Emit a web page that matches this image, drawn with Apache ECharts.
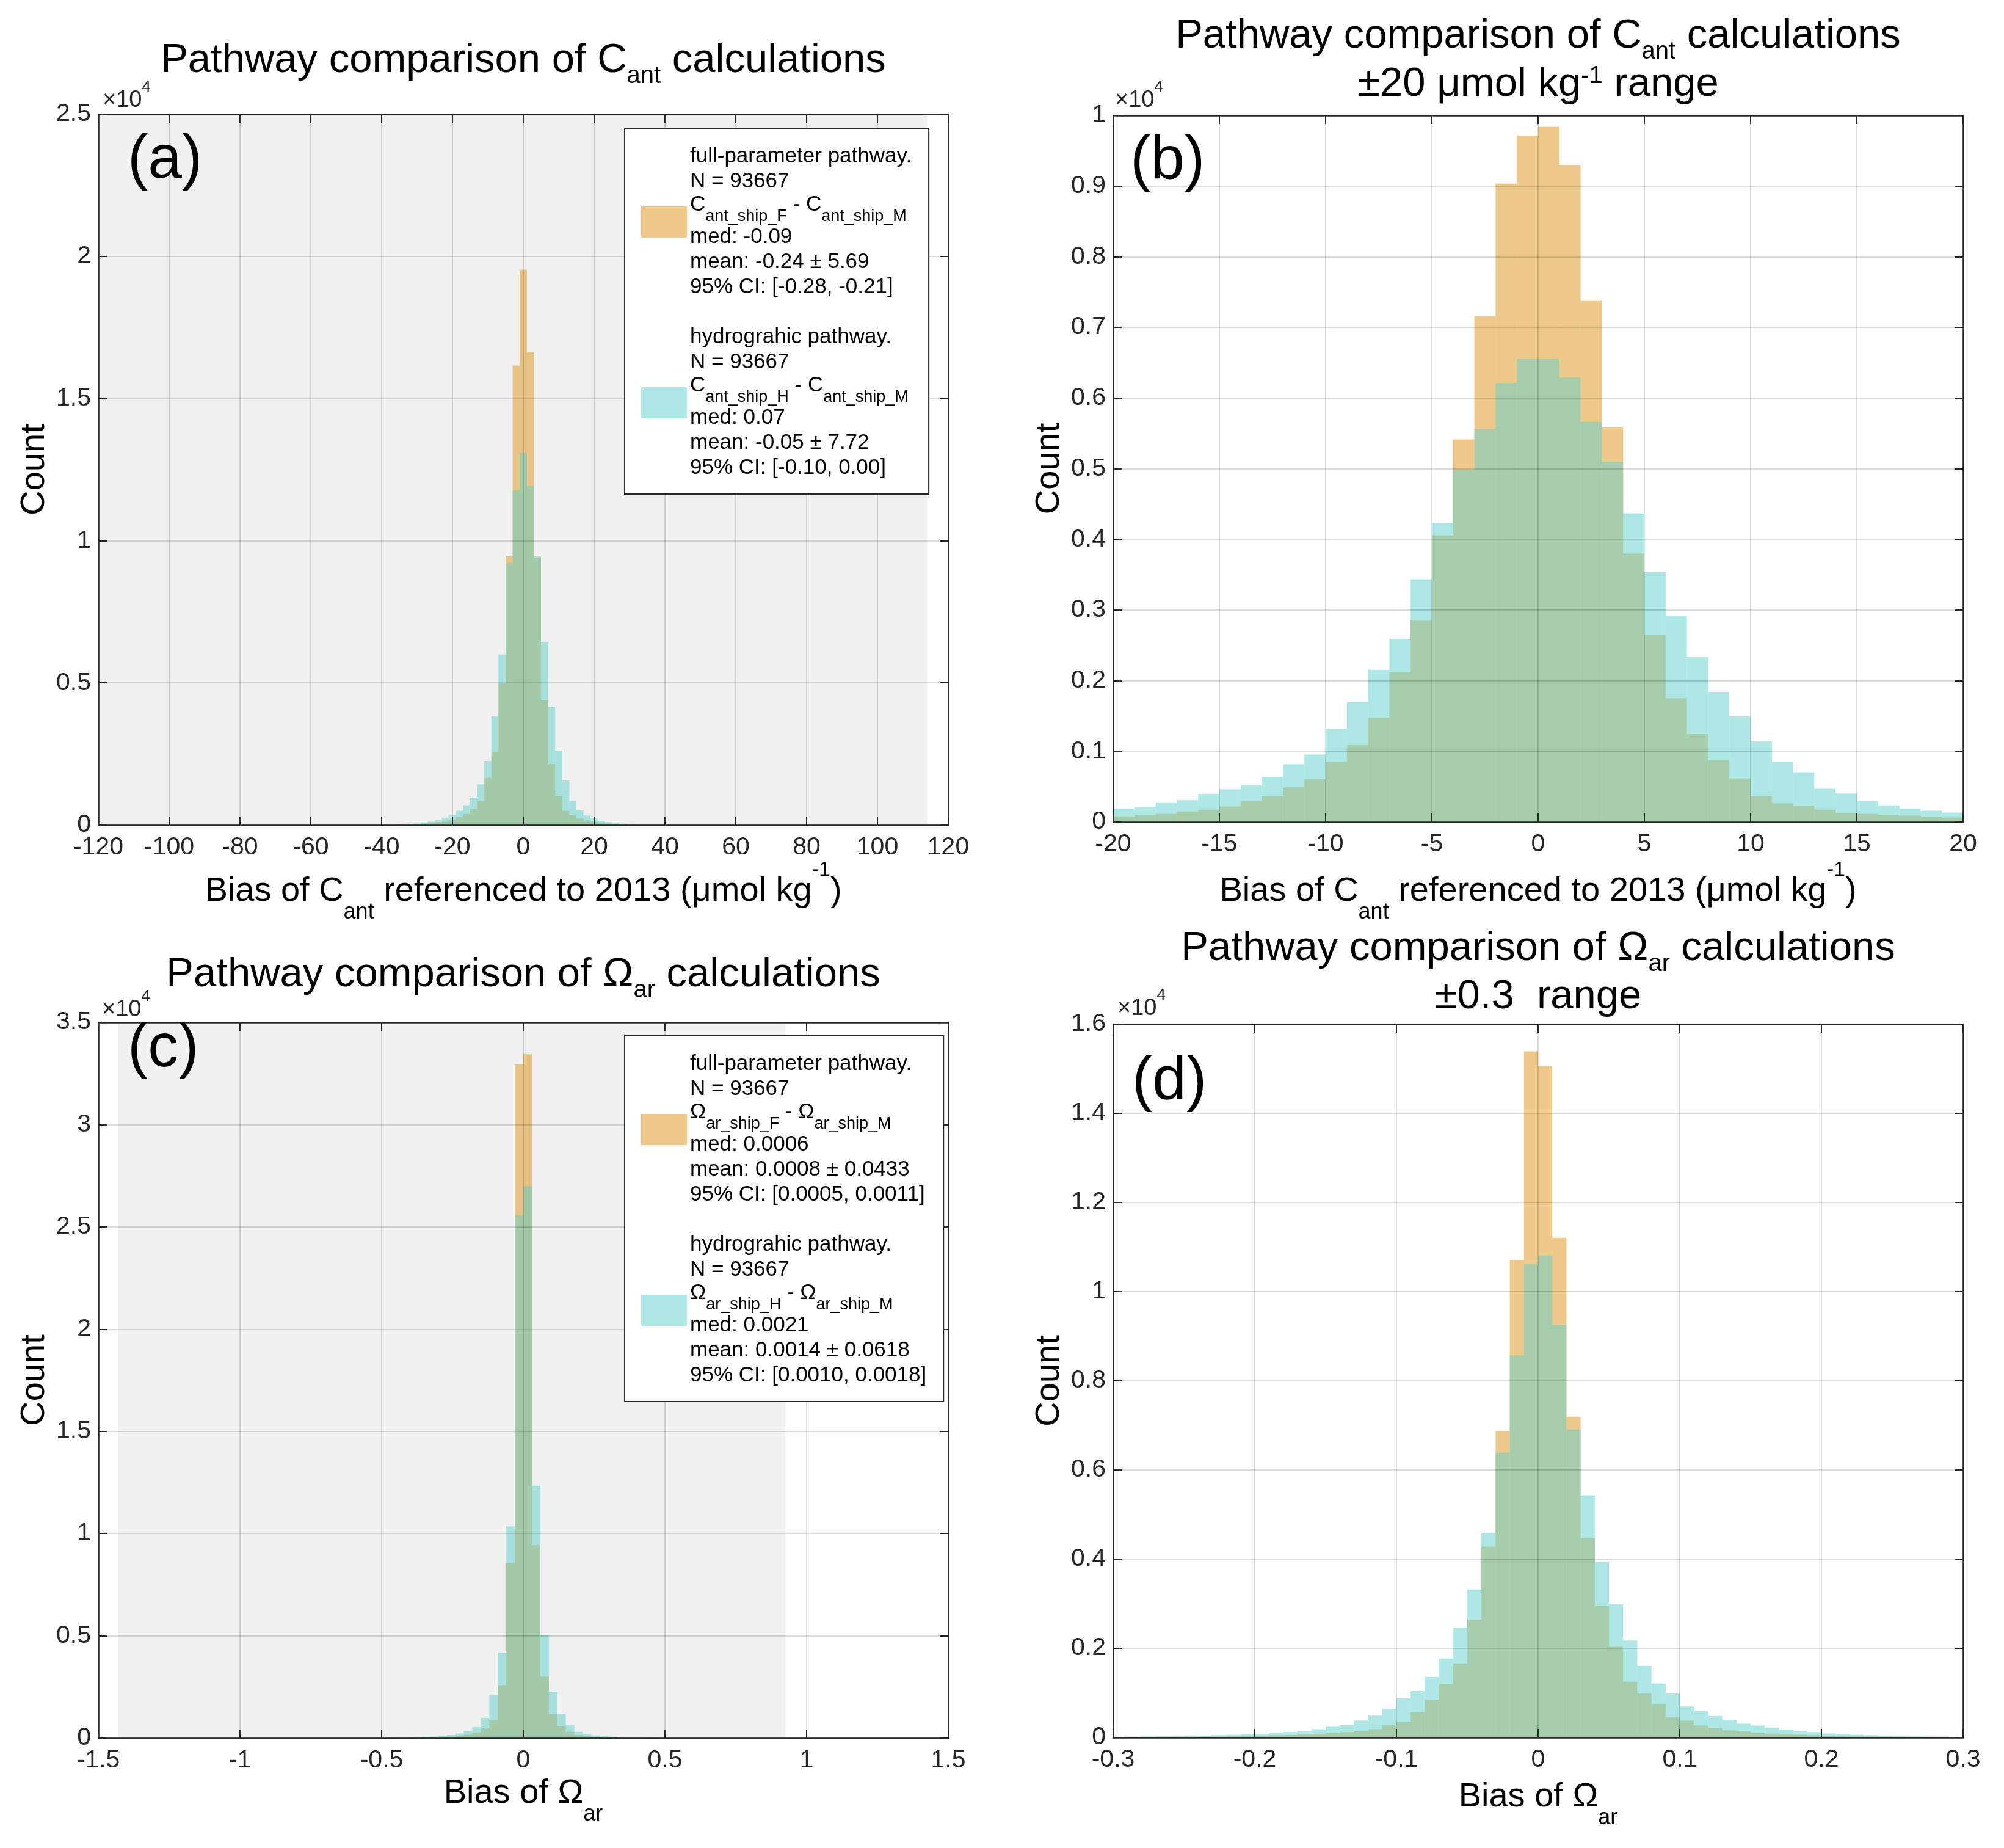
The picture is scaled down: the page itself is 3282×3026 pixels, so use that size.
<!DOCTYPE html>
<html>
<head>
<meta charset="utf-8">
<title>Pathway comparison of Cant and Omega_ar calculations</title>
<script src="https://cdn.jsdelivr.net/npm/echarts@6/dist/echarts.min.js"></script>
<style>
  html, body { margin: 0; padding: 0; background: #fff; }
  #chart { width: 3282px; height: 3026px; }
</style>
</head>
<body>
<div id="chart"></div>
<script>
// ---- data (counts per bin) ----
// (a) Cant, full range, 2-unit bins starting at -41
var startA = -41, widthA = 2;
var cantFullA = [4, 6, 9, 13, 18, 25, 40, 60, 90, 130, 200, 295, 390, 565, 845, 1660, 2580, 4990, 9450, 16160,
  19530, 16630, 9400, 4390, 2150, 1030, 500, 340, 230, 160, 110, 70, 45, 30, 20, 12, 8, 5, 3, 2, 1];
var cantHydroA = [10, 15, 20, 28, 38, 50, 80, 120, 180, 250, 360, 500, 700, 965, 1435, 2255, 3830, 6000, 9210, 11770,
  13090, 11930, 9450, 6440, 4160, 2620, 1570, 860, 520, 335, 230, 150, 100, 60, 40, 25, 16, 10, 7, 5, 3];

// (b) Cant, +-20 range, 1-unit bins starting at -20
var startB = -20, widthB = 1;
var cantFullB = [80, 95, 115, 150, 175, 220, 295, 370, 490, 605, 850, 1090, 1480, 2120, 2850, 4055, 5415, 7160, 9035, 9715,
  9840, 9300, 7375, 5590, 3800, 2645, 1750, 1245, 875, 615, 370, 265, 230, 175, 130, 115, 100, 90, 75, 65];
var cantHydroB = [190, 215, 270, 310, 400, 465, 520, 640, 820, 955, 1320, 1700, 2155, 2590, 3435, 4230, 4985, 5560, 6215, 6550,
  6550, 6290, 5665, 5100, 4370, 3535, 2915, 2335, 1840, 1495, 1140, 850, 705, 470, 405, 295, 235, 190, 160, 135];

// (c) Omega_ar, full range, 0.03 bins starting at -0.48
var startC = -0.48, widthC = 0.03;
var omegaFullC = [5, 7, 10, 14, 20, 30, 45, 65, 100, 165, 280, 470, 870, 2580, 8550, 32950,
  33440, 9440, 3000, 1170, 585, 305, 140, 90, 55, 35, 22, 15, 10, 7, 5, 3];
var omegaHydroC = [12, 18, 25, 35, 50, 70, 100, 150, 220, 350, 540, 985, 2110, 4170, 10350, 25570,
  26980, 12340, 5035, 2270, 1170, 630, 305, 200, 130, 85, 55, 35, 22, 15, 10, 7];

// (d) Omega_ar, +-0.3 range, 0.01 bins starting at -0.3
var startD = -0.3, widthD = 0.01;
var omegaFullD = [7, 8, 9, 10, 12, 15, 18, 22, 28, 32, 37, 49, 55, 67, 80, 105, 120, 150, 185, 270,
  353, 567, 846, 1200, 1660, 2645, 4280, 6870, 10710, 15390,
  15060, 11210, 7195, 4475, 2945, 2035, 1250, 985, 750, 450, 375, 268, 214, 160, 140, 107, 90, 75, 60, 50,
  40, 32, 26, 20, 16, 13, 11, 9, 8, 7];
var omegaHydroD = [16, 18, 22, 26, 30, 36, 42, 50, 60, 70, 80, 104, 122, 150, 185, 240, 275, 380, 490, 640,
  878, 1040, 1360, 1770, 2460, 3320, 4590, 6390, 8570, 10620,
  10810, 9260, 6906, 5430, 3940, 2990, 2175, 1606, 1210, 985, 696, 590, 482, 396, 310, 268, 220, 180, 150, 120,
  90, 75, 60, 48, 38, 30, 25, 20, 17, 14];

// axis ranges [min, max, interval]
var xRangeA = [-120, 120, 20], yRangeA = [0, 25000, 5000];
var xRangeB = [-20, 20, 5],    yRangeB = [0, 10000, 1000];
var xRangeC = [-1.5, 1.5, 0.5], yRangeC = [0, 35000, 5000];
var xRangeD = [-0.3, 0.3, 0.1], yRangeD = [0, 16000, 2000];

// grey background patch (x extent) in the full-range panels
var shadeA = [-120, 114];
var shadeC = [-1.43, 0.925];

// ---- styling ----
var font = 'Liberation Sans, Arial, Helvetica, sans-serif';
var ink = '#262626';
var orange = 'rgba(223,147,21,0.5)';
var cyan = 'rgba(91,209,205,0.5)';

var grids = [
  { left: 161, top: 187, width: 1392, height: 1164 },
  { left: 1823, top: 189, width: 1392, height: 1157 },
  { left: 161, top: 1674, width: 1392, height: 1172 },
  { left: 1823, top: 1677, width: 1392, height: 1168 }
];
grids.forEach(function (g) { g.outerBoundsMode = 'none'; });

function toBins(start, width, counts) {
  return counts.map(function (c, i) {
    return [+(start + i * width).toFixed(6), +(start + (i + 1) * width).toFixed(6), c];
  });
}

function renderBin(params, api) {
  var tl = api.coord([api.value(0), api.value(2)]);
  var br = api.coord([api.value(1), 0]);
  return {
    type: 'rect',
    shape: { x: tl[0], y: tl[1], width: br[0] - tl[0], height: br[1] - tl[1] },
    style: { fill: api.visual('color') }
  };
}

var axisNameRich = {
  n: { fontSize: 56, lineHeight: 104, fontFamily: font, color: '#000' },
  s: { fontSize: 36, lineHeight: 36, verticalAlign: 'bottom', fontFamily: font, color: '#000' },
  p: { fontSize: 34, lineHeight: 45, verticalAlign: 'top', fontFamily: font, color: '#000' }
};

function xAxes(gi, range, name, gap) {
  var common = {
    type: 'value', gridIndex: gi, min: range[0], max: range[1], interval: range[2], z: 5,
    axisLine: { onZero: false, lineStyle: { color: ink, width: 2.5 } },
    axisTick: { inside: true, length: 14, lineStyle: { color: ink, width: 2 } }
  };
  var bottom = Object.assign({}, common, {
    position: 'bottom',
    axisLabel: { fontSize: 41, color: ink, margin: 16, fontFamily: font },
    splitLine: { show: true, lineStyle: { color: 'rgba(0,0,0,0.14)', width: 2 } },
    name: name, nameLocation: 'middle', nameGap: gap, nameMoveOverlap: false,
    nameTextStyle: { fontSize: 56, fontFamily: font, color: '#000', rich: axisNameRich }
  });
  var top = Object.assign({}, common, {
    position: 'top', axisLabel: { show: false }, splitLine: { show: false }
  });
  return [bottom, top];
}

function yAxes(gi, range) {
  var common = {
    type: 'value', gridIndex: gi, min: range[0], max: range[1], interval: range[2], z: 5,
    axisLine: { show: true, onZero: false, lineStyle: { color: ink, width: 2.5 } },
    axisTick: { show: true, inside: true, length: 14, lineStyle: { color: ink, width: 2 } }
  };
  var left = Object.assign({}, common, {
    position: 'left',
    axisLabel: {
      fontSize: 41, color: ink, margin: 12, fontFamily: font,
      formatter: function (v) { return String(+(v / 1e4).toFixed(4)); }
    },
    splitLine: { show: true, lineStyle: { color: 'rgba(0,0,0,0.14)', width: 2 } },
    name: 'Count', nameLocation: 'middle', nameGap: 72, nameMoveOverlap: false,
    nameTextStyle: { fontSize: 56, lineHeight: 64, fontFamily: font, color: '#000' }
  });
  var right = Object.assign({}, common, {
    position: 'right', axisLabel: { show: false }, splitLine: { show: false }
  });
  return [left, right];
}

function hist(name, gi, start, width, counts, color) {
  return {
    type: 'custom', name: name, xAxisIndex: 2 * gi, yAxisIndex: 2 * gi,
    renderItem: renderBin, data: toBins(start, width, counts),
    encode: { x: [0, 1], y: 2 }, itemStyle: { color: color },
    clip: true, silent: true, z: 2
  };
}

function shade(gi, xr, yr) {
  return {
    type: 'line', xAxisIndex: 2 * gi, yAxisIndex: 2 * gi, data: [], z: 0, silent: true,
    markArea: {
      silent: true, itemStyle: { color: '#f0f0f0', borderWidth: 0 },
      data: [[{ coord: [xr[0], yr[0]] }, { coord: [xr[1], yr[1]] }]]
    }
  };
}

var cantLabel = '{n|Bias of C}{s|ant}{n| referenced to 2013 (μmol kg}{p|-1}{n|)}';
var omegaLabel = '{n|Bias of Ω}{s|ar}';

var xAxis = [].concat(
  xAxes(0, xRangeA, cantLabel, 57),
  xAxes(1, xRangeB, cantLabel, 62),
  xAxes(2, xRangeC, omegaLabel, 39),
  xAxes(3, xRangeD, omegaLabel, 46)
);
var yAxis = [].concat(yAxes(0, yRangeA), yAxes(1, yRangeB), yAxes(2, yRangeC), yAxes(3, yRangeD));

var series = [
  shade(0, shadeA, yRangeA),
  hist('aF', 0, startA, widthA, cantFullA, orange),
  hist('aH', 0, startA, widthA, cantHydroA, cyan),
  hist('bF', 1, startB, widthB, cantFullB, orange),
  hist('bH', 1, startB, widthB, cantHydroB, cyan),
  shade(2, shadeC, yRangeC),
  hist('cF', 2, startC, widthC, omegaFullC, orange),
  hist('cH', 2, startC, widthC, omegaHydroC, cyan),
  hist('dF', 3, startD, widthD, omegaFullD, orange),
  hist('dH', 3, startD, widthD, omegaHydroD, cyan)
];

// legend texts ({z|} is an invisible spacer that makes the subscript line taller)
var legendText = {
  aF: 'full-parameter pathway.\nN = 93667\n{c|C}{s|ant_ship_F}{c| - C}{s|ant_ship_M}{z|\u200b}\nmed: -0.09\nmean: -0.24 ± 5.69\n95% CI: [-0.28, -0.21]',
  aH: 'hydrograhic pathway.\nN = 93667\n{c|C}{s|ant_ship_H}{c| - C}{s|ant_ship_M}{z|\u200b}\nmed: 0.07\nmean: -0.05 ± 7.72\n95% CI: [-0.10, 0.00]',
  cF: 'full-parameter pathway.\nN = 93667\n{c|Ω}{s|ar_ship_F}{c| - Ω}{s|ar_ship_M}{z|\u200b}\nmed: 0.0006\nmean: 0.0008 ± 0.0433\n95% CI: [0.0005, 0.0011]',
  cH: 'hydrograhic pathway.\nN = 93667\n{c|Ω}{s|ar_ship_H}{c| - Ω}{s|ar_ship_M}{z|\u200b}\nmed: 0.0021\nmean: 0.0014 ± 0.0618\n95% CI: [0.0010, 0.0018]'
};

function legendBox(names, top) {
  return {
    data: names, left: 1023, top: top, orient: 'vertical',
    icon: 'rect', itemWidth: 75, itemHeight: 51, itemGap: 41,
    padding: [26, 28, 22, 27], backgroundColor: '#fff', borderColor: ink, borderWidth: 2, borderRadius: 0,
    selectedMode: false, z: 10,
    formatter: function (n) { return legendText[n]; },
    textStyle: {
      fontSize: 35, lineHeight: 41, fontFamily: font, color: '#000',
      rich: {
        c: { fontSize: 35, lineHeight: 41, verticalAlign: 'top', fontFamily: font, color: '#000' },
        s: { fontSize: 27, lineHeight: 27, verticalAlign: 'bottom', fontFamily: font, color: '#000' },
        z: { fontSize: 10, lineHeight: 50, fontFamily: font, color: '#000' }
      }
    }
  };
}

var titleRich = {
  t: { fontSize: 67, lineHeight: 91, fontFamily: font, fill: '#000' },
  s: { fontSize: 40, lineHeight: 40, verticalAlign: 'bottom', fontFamily: font, fill: '#000' },
  u: { fontSize: 67, lineHeight: 67, fontFamily: font, fill: '#000' },
  p: { fontSize: 40, lineHeight: 56, verticalAlign: 'top', fontFamily: font, fill: '#000' }
};

function titleText(x, y, text) {
  return {
    type: 'text', x: x, y: y, z: 20,
    style: { text: text, rich: titleRich, fontSize: 67, fontFamily: font, fill: '#000', align: 'center', verticalAlign: 'top' }
  };
}

var expRich = {
  m: { fontSize: 38, lineHeight: 54, verticalAlign: 'bottom', fontFamily: font, fill: ink },
  q: { fontSize: 26, lineHeight: 50, verticalAlign: 'top', fontFamily: font, fill: ink }
};
function expText(x, y) {
  return {
    type: 'text', x: x, y: y, z: 20,
    style: { text: '{m|×10}{q|4}', rich: expRich, fontSize: 38, fontFamily: font, fill: ink, align: 'left', verticalAlign: 'top' }
  };
}
function panelText(x, y, text) {
  return {
    type: 'text', x: x, y: y, z: 20,
    style: { text: text, fontSize: 100, fontFamily: font, fill: '#000', align: 'left', verticalAlign: 'top' }
  };
}

var graphic = [
  titleText(857, 54, '{t|Pathway comparison of C}{s|ant}{t| calculations}'),
  titleText(2519, 14, '{t|Pathway comparison of C}{s|ant}{t| calculations}\n{u|±20 μmol kg}{p|-1}{u| range}'),
  titleText(857, 1551, '{t|Pathway comparison of Ω}{s|ar}{t| calculations}'),
  titleText(2519, 1508, '{t|Pathway comparison of Ω}{s|ar}{t| calculations}\n{u|±0.3  range}'),
  expText(168, 130), expText(1826, 130), expText(167, 1619), expText(1830, 1617),
  panelText(209, 213, '(a)'), panelText(1851, 215, '(b)'), panelText(209, 1668, '(c)'), panelText(1854, 1722, '(d)')
];

var chart = echarts.init(document.getElementById('chart'), null, { renderer: 'canvas' });
chart.setOption({
  backgroundColor: '#fff',
  animation: false,
  textStyle: { fontFamily: font },
  grid: grids,
  xAxis: xAxis,
  yAxis: yAxis,
  legend: [legendBox(['aF', 'aH'], 210), legendBox(['cF', 'cH'], 1696)],
  graphic: graphic,
  series: series
});
</script>
</body>
</html>
